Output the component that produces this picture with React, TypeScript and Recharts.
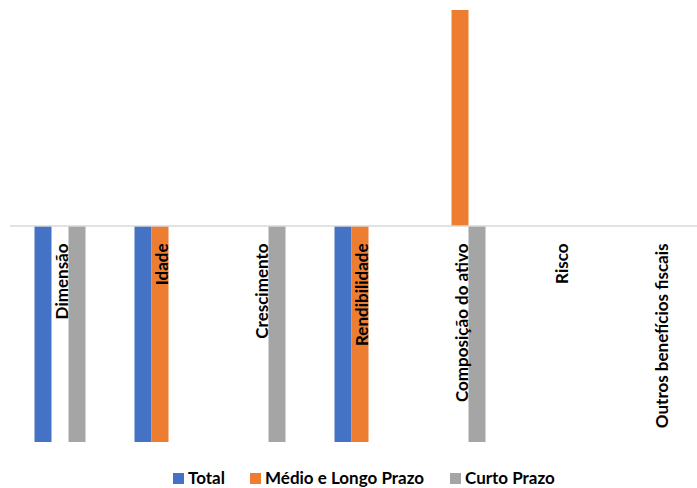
import React from "react";
import { BarChart, Bar, XAxis, YAxis, ReferenceLine } from "recharts";

const categories = [
  "Dimensão",
  "Idade",
  "Crescimento",
  "Rendibilidade",
  "Composição do ativo",
  "Risco",
  "Outros benefícios fiscais",
];

const total = [-1, -1, 0, -1, 0, 0, 0];
const medioLongo = [0, -1, 0, -1, 1, 0, 0];
const curto = [-1, 0, -1, 0, -1, 0, 0];

const series = [
  { key: "total", name: "Total", color: "#4472C4", values: total },
  { key: "medio", name: "Médio e Longo Prazo", color: "#ED7D31", values: medioLongo },
  { key: "curto", name: "Curto Prazo", color: "#A5A5A5", values: curto },
];

const data = categories.map((name, i) => {
  const row: { [k: string]: string | number } = { name };
  series.forEach((s) => (row[s.key] = s.values[i]));
  return row;
});

const FONT = "Lato, 'Open Sans', sans-serif";
const CHART_W = 720;
const CHART_H = 488;
const MARGIN = { top: 10, right: 10, left: 10, bottom: 45 };
const PLOT_H = CHART_H - MARGIN.top - MARGIN.bottom;

// category names hang just under the zero line (domain is symmetric)
function CategoryTick(props: any) {
  const { x, y, payload } = props;
  const zeroY = y - PLOT_H / 2;
  const tx = x + 1;
  const ty = zeroY + 10;
  return (
    <text
      x={tx}
      y={ty}
      transform={`rotate(-90, ${tx}, ${ty})`}
      textAnchor="end"
      dominantBaseline="central"
      fontFamily={FONT}
      fontWeight={700}
      fontSize={17}
      fill="#000"
    >
      {payload.value}
    </text>
  );
}

export default function App() {
  return (
    <div
      style={{
        position: "absolute",
        left: 0,
        top: 0,
        width: 697,
        height: 488,
        overflow: "hidden",
        background: "#fff",
      }}
    >
      <BarChart
        width={CHART_W}
        height={CHART_H}
        data={data}
        margin={MARGIN}
        barGap={0}
        barCategoryGap={24.5}
      >
        <XAxis
          dataKey="name"
          axisLine={false}
          tickLine={false}
          height={1}
          interval={0}
          tick={<CategoryTick />}
        />
        <YAxis hide domain={[-1, 1]} />
        {series.map((s) => (
          <Bar
            key={s.key}
            dataKey={s.key}
            name={s.name}
            fill={s.color}
            isAnimationActive={false}
          />
        ))}
        <ReferenceLine y={0} stroke="#D9D9D9" strokeWidth={1.5} />
      </BarChart>
      <div
        style={{
          position: "absolute",
          top: 469,
          left: 0,
          width: 697,
          fontFamily: FONT,
          fontWeight: 700,
          fontSize: 17,
          lineHeight: "18px",
        }}
      >
        {series.map((s, i) => (
          <div
            key={s.key}
            style={{
              position: "absolute",
              left: [173, 250, 450][i],
              display: "flex",
              alignItems: "center",
              whiteSpace: "nowrap",
            }}
          >
            <span
              style={{
                display: "inline-block",
                width: 11,
                height: 11,
                background: s.color,
                marginRight: 4,
              }}
            />
            {s.name}
          </div>
        ))}
      </div>
    </div>
  );
}
